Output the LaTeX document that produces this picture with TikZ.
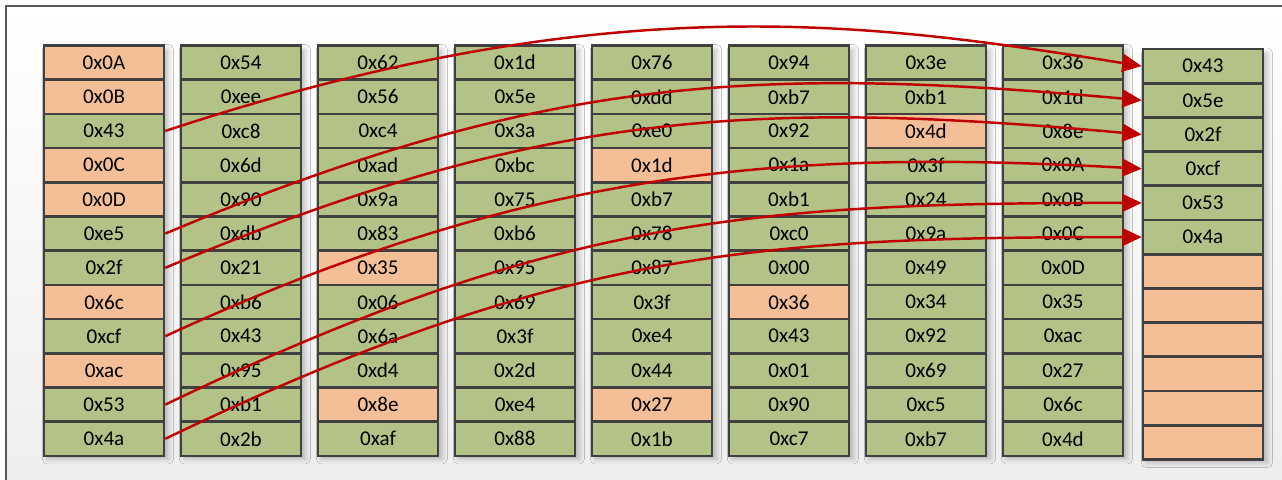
\documentclass[tikz,border=0pt]{standalone}
\usepackage{fontspec}
\setmainfont{Carlito}
\usetikzlibrary{arrows.meta,shadows.blur}

\definecolor{cellgreen}{RGB}{179,194,134}
\definecolor{cellorange}{RGB}{244,191,150}
\definecolor{cellline}{RGB}{64,64,64}
\definecolor{linkred}{RGB}{192,0,0}

\begin{document}
\begin{tikzpicture}[x=0.02cm,y=-0.02cm,
	cell/.style={draw=cellline,line width=1.5pt,minimum width=2.4cm,minimum height=0.684cm,
		inner sep=0pt,font=\fontsize{12}{14}\selectfont},
	dat/.style={cell,fill=cellgreen},
	hole/.style={cell,fill=cellorange},
	colshadow/.style={fill=white,blur shadow={shadow xshift=2.2pt,shadow yshift=-2pt,
		shadow blur radius=2.5pt,shadow opacity=22}},
	link/.style={draw=linkred,line width=1.4pt,-{Triangle[length=11pt,width=10pt]}}]
	\useasboundingbox (0,0) rectangle (1282,480);
	\clip (0,0) rectangle (1282,480);
	\shade[top color=white,bottom color=black!7] (6,6) rectangle (1300,500);
	\draw[black!65,line width=0.8pt] (6,6) rectangle (1300,500);
	% eight source columns
	\foreach \col/\cells in {
		1/{0x0A/hole,0x0B/hole,0x43/dat,0x0C/hole,0x0D/hole,0xe5/dat,0x2f/dat,0x6c/hole,0xcf/dat,0xac/hole,0x53/dat,0x4a/dat},
		2/{0x54/dat,0xee/dat,0xc8/dat,0x6d/dat,0x90/dat,0xdb/dat,0x21/dat,0xb6/dat,0x43/dat,0x95/dat,0xb1/dat,0x2b/dat},
		3/{0x62/dat,0x56/dat,0xc4/dat,0xad/dat,0x9a/dat,0x83/dat,0x35/hole,0x06/dat,0x6a/dat,0xd4/dat,0x8e/hole,0xaf/dat},
		4/{0x1d/dat,0x5e/dat,0x3a/dat,0xbc/dat,0x75/dat,0xb6/dat,0x95/dat,0x69/dat,0x3f/dat,0x2d/dat,0xe4/dat,0x88/dat},
		5/{0x76/dat,0xdd/dat,0xe0/dat,0x1d/hole,0xb7/dat,0x78/dat,0x87/dat,0x3f/dat,0xe4/dat,0x44/dat,0x27/hole,0x1b/dat},
		6/{0x94/dat,0xb7/dat,0x92/dat,0x1a/dat,0xb1/dat,0xc0/dat,0x00/dat,0x36/hole,0x43/dat,0x01/dat,0x90/dat,0xc7/dat},
		7/{0x3e/dat,0xb1/dat,0x4d/hole,0x3f/dat,0x24/dat,0x9a/dat,0x49/dat,0x34/dat,0x92/dat,0x69/dat,0xc5/dat,0xb7/dat},
		8/{0x36/dat,0x1d/dat,0x8e/dat,0x0A/dat,0x0B/dat,0x0C/dat,0x0D/dat,0x35/dat,0xac/dat,0x27/dat,0x6c/dat,0x4d/dat}}{
		\pgfmathsetmacro\cx{104+137*(\col-1)}
		\path[colshadow] (\cx-61,45.5) rectangle (\cx+61,455.9);
		\foreach \txt/\kind [count=\row] in \cells
			\node[\kind] (c\col-\row) at (\cx,{62.6+34.2*(\row-1)}) {\txt};
	}
	% result column
	\path[colshadow] (1142,49) rectangle (1264,459.4);
	\foreach \txt/\kind [count=\row] in {0x43/dat,0x5e/dat,0x2f/dat,0xcf/dat,0x53/dat,0x4a/dat,
		{}/hole,{}/hole,{}/hole,{}/hole,{}/hole,{}/hole}
		\node[\kind] (c9-\row) at (1203,{66.1+34.2*(\row-1)}) {\txt};
	\draw[link] (c1-3.east) .. controls +(444,-147) and +(-268,-43) .. (c9-1.west);
	\draw[link] (c1-6.east) .. controls +(375,-158) and +(-386,-35) .. (c9-2.west);
	\draw[link] (c1-7.east) .. controls +(375,-158) and +(-386,-35) .. (c9-3.west);
	\draw[link] (c1-9.east) .. controls +(362,-167) and +(-362,-20) .. (c9-4.west);
	\draw[link] (c1-11.east) .. controls +(389,-187) and +(-389,0) .. (c9-5.west);
	\draw[link] (c1-12.east) .. controls +(389,-187) and +(-389,0) .. (c9-6.west);
\end{tikzpicture}
\end{document}
